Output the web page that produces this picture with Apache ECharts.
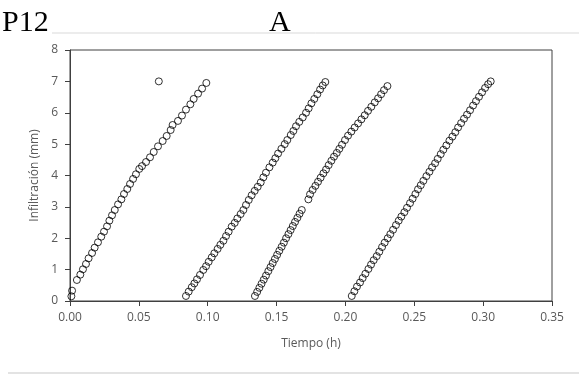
<!DOCTYPE html>
<html>
<head>
<meta charset="utf-8">
<script src="https://cdn.jsdelivr.net/npm/echarts@6/dist/echarts.min.js"></script>
<style>
  html, body { margin: 0; padding: 0; background: #fff; }
  #chart { width: 579px; height: 376px; }
</style>
</head>
<body>
<div id="chart"></div>
<script>
// ensayo 1
const run1 = [
  [0.0010, 0.15], [0.0015, 0.33], [0.0050, 0.67], [0.0075, 0.84], [0.0094, 1.01],
  [0.0116, 1.18], [0.0135, 1.36], [0.0160, 1.53], [0.0179, 1.70], [0.0203, 1.87],
  [0.0227, 2.05], [0.0247, 2.21], [0.0269, 2.38], [0.0286, 2.56], [0.0305, 2.73],
  [0.0325, 2.90], [0.0349, 3.08], [0.0373, 3.24], [0.0392, 3.41], [0.0416, 3.57],
  [0.0436, 3.73], [0.0458, 3.89], [0.0479, 4.04], [0.0503, 4.21], [0.0523, 4.30],
  [0.0552, 4.43], [0.0581, 4.58], [0.0608, 4.75], [0.0639, 4.93], [0.0673, 5.10],
  [0.0702, 5.26], [0.0731, 5.45], [0.0745, 5.61], [0.0784, 5.74], [0.0813, 5.91],
  [0.0842, 6.10], [0.0874, 6.27], [0.0898, 6.44], [0.0930, 6.61], [0.0959, 6.77],
  [0.0990, 6.95]
];
// punto suelto
const outlier = [[0.0645, 7.0]];
// ensayo 2
const run2 = [
  [0.0842, 0.16], [0.0862, 0.30], [0.0884, 0.44], [0.0903, 0.56], [0.0922, 0.69],
  [0.0944, 0.83], [0.0968, 0.99], [0.0988, 1.11], [0.1007, 1.25], [0.1029, 1.39],
  [0.1048, 1.52], [0.1072, 1.66], [0.1092, 1.79], [0.1114, 1.92], [0.1133, 2.07],
  [0.1152, 2.21], [0.1174, 2.37], [0.1196, 2.49], [0.1215, 2.63], [0.1239, 2.77],
  [0.1259, 2.90], [0.1278, 3.06], [0.1298, 3.22], [0.1319, 3.37], [0.1341, 3.51],
  [0.1363, 3.64], [0.1385, 3.78], [0.1404, 3.94], [0.1423, 4.09], [0.1448, 4.26],
  [0.1472, 4.41], [0.1491, 4.55], [0.1511, 4.70], [0.1535, 4.85], [0.1559, 5.00],
  [0.1578, 5.13], [0.1603, 5.29], [0.1622, 5.42], [0.1641, 5.57], [0.1665, 5.71],
  [0.1690, 5.85], [0.1714, 6.00], [0.1733, 6.14], [0.1753, 6.30], [0.1774, 6.44],
  [0.1796, 6.59], [0.1816, 6.74], [0.1835, 6.87], [0.1854, 6.98]
];
// ensayo 3 (con salto hacia 3 mm)
const run3 = [
  [0.1343, 0.16], [0.1359, 0.29], [0.1375, 0.42], [0.1391, 0.55], [0.1407, 0.68],
  [0.1423, 0.81], [0.1440, 0.95], [0.1456, 1.08], [0.1472, 1.21], [0.1488, 1.34],
  [0.1504, 1.47], [0.1520, 1.60], [0.1537, 1.73], [0.1553, 1.86], [0.1569, 2.00],
  [0.1586, 2.13], [0.1602, 2.26], [0.1618, 2.39], [0.1634, 2.52], [0.1651, 2.65],
  [0.1667, 2.78], [0.1683, 2.90],
  [0.1731, 3.24], [0.1743, 3.40], [0.1762, 3.54], [0.1782, 3.67], [0.1801, 3.80],
  [0.1820, 3.93], [0.1840, 4.07], [0.1859, 4.19], [0.1878, 4.33], [0.1898, 4.47],
  [0.1917, 4.60], [0.1937, 4.72], [0.1956, 4.85], [0.1975, 4.98], [0.1997, 5.13],
  [0.2019, 5.27], [0.2043, 5.40], [0.2067, 5.53], [0.2092, 5.66], [0.2116, 5.79],
  [0.2140, 5.92], [0.2164, 6.06], [0.2188, 6.19], [0.2213, 6.33], [0.2237, 6.46],
  [0.2259, 6.59], [0.2280, 6.72], [0.2305, 6.85]
];
// ensayo 4
const run4 = [
  [0.2046, 0.16], [0.2065, 0.31], [0.2084, 0.46], [0.2106, 0.59], [0.2125, 0.73],
  [0.2145, 0.87], [0.2167, 1.02], [0.2186, 1.16], [0.2205, 1.30], [0.2227, 1.43],
  [0.2246, 1.57], [0.2266, 1.72], [0.2285, 1.86], [0.2307, 2.00], [0.2326, 2.13],
  [0.2346, 2.27], [0.2367, 2.42], [0.2387, 2.56], [0.2406, 2.69], [0.2428, 2.83],
  [0.2447, 2.97], [0.2469, 3.12], [0.2488, 3.26], [0.2508, 3.41], [0.2527, 3.56],
  [0.2547, 3.69], [0.2566, 3.83], [0.2588, 3.98], [0.2610, 4.12], [0.2629, 4.26],
  [0.2651, 4.39], [0.2670, 4.53], [0.2692, 4.68], [0.2711, 4.82], [0.2733, 4.96],
  [0.2755, 5.11], [0.2777, 5.24], [0.2798, 5.38], [0.2818, 5.53], [0.2840, 5.67],
  [0.2861, 5.81], [0.2883, 5.94], [0.2905, 6.08], [0.2927, 6.23], [0.2948, 6.37],
  [0.2970, 6.51], [0.2992, 6.65], [0.3014, 6.79], [0.3036, 6.91], [0.3055, 7.00]
];

const xMin = 0, xMax = 0.35, xStep = 0.05;
const yMin = 0, yMax = 8, yStep = 1;

const axisGrey = '#595959';
const font = '"Open Sans", sans-serif';

function scatter(data) {
  return {
    type: 'scatter',
    data: data,
    symbol: 'circle',
    symbolSize: 7,
    itemStyle: { color: 'transparent', borderColor: '#000', borderWidth: 1 },
    silent: true
  };
}

const chart = echarts.init(document.getElementById('chart'), null, { renderer: 'canvas' });
chart.setOption({
  animation: false,
  backgroundColor: '#fff',
  title: [
    { text: 'P12', left: 2, top: 8, padding: 0, textStyle: { fontFamily: '"Liberation Serif", serif', fontSize: 30, fontWeight: 'normal', color: '#000' } },
    { text: 'A', left: 269, top: 8, padding: 0, textStyle: { fontFamily: '"Liberation Serif", serif', fontSize: 30, fontWeight: 'normal', color: '#000' } }
  ],
  graphic: [
    { type: 'line', shape: { x1: 52, y1: 33, x2: 579, y2: 33 }, style: { stroke: '#d9d9d9', lineWidth: 1 } },
    { type: 'line', shape: { x1: 8, y1: 373, x2: 579, y2: 373 }, style: { stroke: '#e3e3e3', lineWidth: 2 } }
  ],
  grid: {
    left: 70, right: 27, top: 50, bottom: 75,
    show: true, borderColor: '#404040', borderWidth: 1, backgroundColor: 'transparent'
  },
  xAxis: {
    type: 'value',
    min: xMin, max: xMax, interval: xStep,
    name: 'Tiempo (h)',
    nameLocation: 'middle',
    nameGap: 37,
    nameTextStyle: { color: axisGrey, fontSize: 12, fontFamily: font },
    splitLine: { show: false },
    axisLine: { show: true, lineStyle: { color: '#404040', width: 1 } },
    axisTick: { show: true, length: 5, lineStyle: { color: '#404040' } },
    axisLabel: { color: axisGrey, fontSize: 12, fontFamily: font, margin: 11, formatter: v => v.toFixed(2) }
  },
  yAxis: {
    type: 'value',
    min: yMin, max: yMax, interval: yStep,
    name: 'Infiltración (mm)',
    nameLocation: 'middle',
    nameGap: 24,
    nameTextStyle: { color: axisGrey, fontSize: 12, fontFamily: font },
    splitLine: { show: false },
    axisLine: { show: true, lineStyle: { color: '#404040', width: 1 } },
    axisTick: { show: true, length: 5, lineStyle: { color: '#404040' } },
    axisLabel: { color: axisGrey, fontSize: 12, fontFamily: font, margin: 12 }
  },
  series: [scatter(run1), scatter(outlier), scatter(run2), scatter(run3), scatter(run4)]
});
</script>
</body>
</html>
